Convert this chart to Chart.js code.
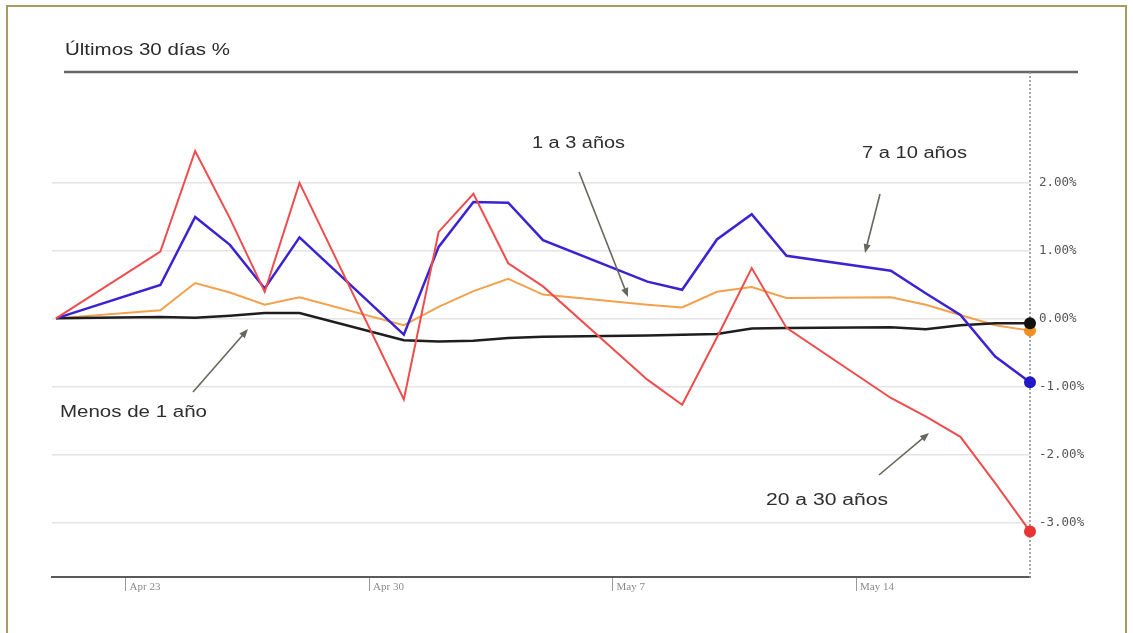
<!DOCTYPE html>
<html lang="es">
<head>
<meta charset="utf-8">
<title>Últimos 30 días %</title>
<script src="https://cdn.jsdelivr.net/npm/chart.js@4/dist/chart.umd.min.js"></script>
<style>
  html, body { margin: 0; padding: 0; background: #ffffff; }
  #wrap { width: 1133px; height: 633px; }
</style>
</head>
<body>
<div id="wrap"><canvas id="chart" width="1133" height="633"></canvas></div>
<script>
// Trading days, counted in calendar days from the first session
const days = [0, 3, 4, 5, 6, 7, 10, 11, 12, 13, 14, 17, 18, 19, 20, 21, 24, 25, 26, 27, 28];

// Cumulative change (%) per maturity bucket
const tramo20a30 = [0, 0.98, 2.46, 1.47, 0.39, 1.99, -1.19, 1.27, 1.83, 0.81, 0.47, -0.90, -1.27, -0.28, 0.74, -0.14, -1.17, -1.44, -1.74, -2.42, -3.13];
const tramo7a10  = [0, 0.49, 1.49, 1.08, 0.44, 1.19, -0.24, 1.05, 1.71, 1.70, 1.15, 0.54, 0.42, 1.16, 1.53, 0.92, 0.70, 0.37, 0.05, -0.56, -0.94];
const tramo1a3   = [0, 0.12, 0.52, 0.38, 0.20, 0.31, -0.10, 0.17, 0.40, 0.58, 0.35, 0.20, 0.16, 0.39, 0.46, 0.30, 0.31, 0.20, 0.05, -0.10, -0.18];
const tramoMenos1 = [0, 0.02, 0.01, 0.04, 0.08, 0.08, -0.32, -0.34, -0.33, -0.29, -0.27, -0.25, -0.24, -0.23, -0.15, -0.14, -0.13, -0.16, -0.10, -0.07, -0.07];

// Axis ticks
const xTickDays = [2, 9, 16, 23];
const xTickLabels = ['Apr 23', 'Apr 30', 'May 7', 'May 14'];
const yTickValues = [-3, -2, -1, 0, 1, 2];

const titleText = 'Últimos 30 días %';

// Callout labels with their pointer arrows (pixel layout)
const callouts = [
  { text: '1 a 3 años',     x: 532, y: 148, w: 93,  from: [579, 172], to: [628, 297] },
  { text: '7 a 10 años',    x: 862, y: 158, w: 105, from: [880, 194], to: [865, 253] },
  { text: 'Menos de 1 año', x: 60,  y: 417, w: 147, from: [193, 392], to: [248, 329] },
  { text: '20 a 30 años',   x: 766, y: 505, w: 122, from: [879, 475], to: [929, 433] }
];

function toPoints(values) {
  return values.map((v, i) => ({ x: days[i], y: v }));
}

function lastPointRadius(r) {
  return (ctx) => (ctx.dataIndex === days.length - 1 ? r : 0);
}

// Draws text stretched horizontally to a given width
function drawWideText(ctx, str, x, y, w, font, color) {
  ctx.save();
  ctx.font = font;
  const m = ctx.measureText(str).width;
  ctx.translate(x, y);
  ctx.scale(w / m, 1);
  ctx.fillStyle = color;
  ctx.textAlign = 'left';
  ctx.textBaseline = 'alphabetic';
  ctx.fillText(str, 0, 0);
  ctx.restore();
}

function drawArrow(ctx, from, to, color) {
  const [x1, y1] = from, [x2, y2] = to;
  const ang = Math.atan2(y2 - y1, x2 - x1);
  const head = 9, half = 3.6;
  ctx.save();
  ctx.strokeStyle = color;
  ctx.fillStyle = color;
  ctx.lineWidth = 1.6;
  ctx.beginPath();
  ctx.moveTo(x1, y1);
  ctx.lineTo(x2 - Math.cos(ang) * head * 0.8, y2 - Math.sin(ang) * head * 0.8);
  ctx.stroke();
  ctx.beginPath();
  ctx.moveTo(x2, y2);
  ctx.lineTo(x2 - Math.cos(ang) * head + Math.sin(ang) * half, y2 - Math.sin(ang) * head - Math.cos(ang) * half);
  ctx.lineTo(x2 - Math.cos(ang) * head - Math.sin(ang) * half, y2 - Math.sin(ang) * head + Math.cos(ang) * half);
  ctx.closePath();
  ctx.fill();
  ctx.restore();
}

const framePlugin = {
  id: 'frame',
  beforeDraw(chart) {
    const c = chart.ctx;
    c.save();
    c.fillStyle = '#ffffff';
    c.fillRect(0, 0, chart.width, chart.height);
    // outer frame
    c.strokeStyle = '#a99a5d';
    c.lineWidth = 2;
    c.strokeRect(7, 6, 1119, 660);
    // rule under the title
    c.strokeStyle = '#666666';
    c.lineWidth = 2.5;
    c.beginPath();
    c.moveTo(64, 72);
    c.lineTo(1078, 72);
    c.stroke();
    c.restore();
  },
  beforeDatasetsDraw(chart) {
    // dotted marker line at the latest session
    const c = chart.ctx;
    const a = chart.chartArea;
    c.save();
    c.strokeStyle = '#8a8a8a';
    c.lineWidth = 1.5;
    c.setLineDash([2, 2]);
    c.beginPath();
    c.moveTo(a.right, a.top);
    c.lineTo(a.right, a.bottom + 2);
    c.stroke();
    c.restore();
  },
  afterDraw(chart) {
    const c = chart.ctx;
    drawWideText(c, titleText, 65, 55, 165, '16px "Liberation Sans", Arial, sans-serif', '#2a2a2a');
    callouts.forEach((a) => {
      drawArrow(c, a.from, a.to, '#66665c');
      drawWideText(c, a.text, a.x, a.y, a.w, '16px "Liberation Sans", Arial, sans-serif', '#2e2e2e');
    });
  }
};

new Chart(document.getElementById('chart'), {
  type: 'line',
  data: {
    datasets: [
      {
        label: '20 a 30 años',
        data: toPoints(tramo20a30),
        borderColor: '#ef4d4d',
        backgroundColor: '#e83434',
        borderWidth: 2,
        pointRadius: lastPointRadius(6),
        pointBackgroundColor: '#e83434',
        pointBorderWidth: 0,
        tension: 0,
        clip: false
      },
      {
        label: '7 a 10 años',
        data: toPoints(tramo7a10),
        borderColor: '#3b22d2',
        backgroundColor: '#2318c8',
        borderWidth: 2.5,
        pointRadius: lastPointRadius(6),
        pointBackgroundColor: '#2318c8',
        pointBorderWidth: 0,
        tension: 0,
        clip: false
      },
      {
        label: 'Menos de 1 año',
        data: toPoints(tramoMenos1),
        borderColor: '#1e1e1e',
        backgroundColor: '#111111',
        borderWidth: 2.5,
        pointRadius: lastPointRadius(6),
        pointBackgroundColor: '#111111',
        pointBorderWidth: 0,
        tension: 0,
        clip: false
      },
      {
        label: '1 a 3 años',
        data: toPoints(tramo1a3),
        borderColor: '#f2a14c',
        backgroundColor: '#f0901e',
        borderWidth: 2,
        pointRadius: lastPointRadius(6),
        pointBackgroundColor: '#f0901e',
        pointBorderWidth: 0,
        tension: 0,
        clip: false
      }
    ]
  },
  options: {
    responsive: false,
    animation: false,
    events: [],
    layout: { padding: { left: 52, top: 72, right: 0, bottom: 0 } },
    plugins: {
      legend: { display: false },
      tooltip: { enabled: false },
      title: { display: false }
    },
    scales: {
      x: {
        type: 'linear',
        position: 'bottom',
        min: -0.115,
        max: 28,
        afterFit(s) { s.height = 56; },
        afterBuildTicks(s) { s.ticks = xTickDays.map((v) => ({ value: v })); },
        ticks: {
          callback: (value, index) => xTickLabels[index],
          align: 'start',
          labelOffset: 4,
          padding: -10,
          maxRotation: 0,
          autoSkip: false,
          color: '#8a8a8a',
          font: { family: '"Liberation Serif", "Times New Roman", serif', size: 11 }
        },
        grid: {
          display: true,
          drawOnChartArea: false,
          drawTicks: true,
          tickLength: 14,
          color: '#9a9a9a',
          lineWidth: 1
        },
        border: { display: true, color: '#5a5a5a', width: 2 }
      },
      y: {
        type: 'linear',
        position: 'right',
        min: -3.8,
        max: 3.62,
        afterFit(s) { s.width = 103; },
        afterBuildTicks(s) { s.ticks = yTickValues.map((v) => ({ value: v })); },
        ticks: {
          callback: (value) => value.toFixed(2) + '%',
          padding: 9,
          color: '#555555',
          font: { family: '"DejaVu Sans Mono", monospace', size: 12.5 }
        },
        grid: {
          color: '#e4e4e4',
          lineWidth: 1.5,
          drawTicks: false
        },
        border: { display: false }
      }
    }
  },
  plugins: [framePlugin]
});
</script>
</body>
</html>
